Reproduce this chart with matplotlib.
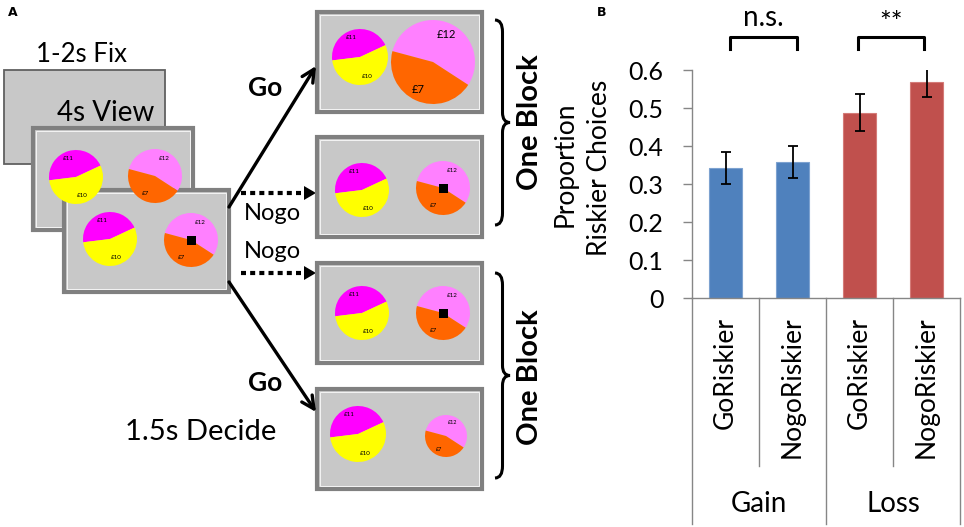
import numpy as np
import matplotlib
matplotlib.use('Agg')
import matplotlib.pyplot as plt
from matplotlib.patches import Rectangle, Wedge, Polygon, PathPatch
from matplotlib.path import Path

plt.rcParams['font.family'] = ['Lato', 'DejaVu Sans']

# ---- panel B data ----
conditions = ['GoRiskier', 'NogoRiskier', 'GoRiskier', 'NogoRiskier']
domains = ['Gain', 'Loss']
riskier = [0.342, 0.357, 0.488, 0.569]
sem = [0.041, 0.042, 0.048, 0.039]
bar_colors = ['#4f81bd', '#4f81bd', '#c0504d', '#c0504d']
bar_edges = ['#7da2d0', '#7da2d0', '#d47b78', '#d47b78']
yticks = [0, 0.1, 0.2, 0.3, 0.4, 0.5, 0.6]
ytick_labels = ['0', '0.1', '0.2', '0.3', '0.4', '0.5', '0.6']
sig_labels = ['n.s.', '**']

# ---- panel A stimuli ----
safe_amounts = ['£11', '£10']
risky_amounts = ['£12', '£7']
safe_share = 0.45   # magenta part of the safe pie
risky_share = 0.55  # pink part of the risky pie

fig = plt.figure(figsize=(9.64, 5.27), dpi=100)

# panel A drawn in pixel coordinates
axa = fig.add_axes([0, 0, 1, 1])
axa.set_xlim(0, 964)
axa.set_ylim(527, 0)
axa.axis('off')

GRAY = '#c8c8c8'


def screen(x, y, w, h, thin=False):
    if thin:
        axa.add_patch(Rectangle((x, y), w, h, fc=GRAY, ec='#606060', lw=1.3, zorder=2))
        return
    axa.add_patch(Rectangle((x, y), w, h, fc=GRAY, ec='#808080', lw=3.0, zorder=2))
    axa.add_patch(Rectangle((x + 3, y + 3), w - 6, h - 6, fc='none', ec='#f4f4f4', lw=0.7, zorder=2))


def pie(cx, cy, r, kind, fs=4.5, square=False):
    if kind == 'safe':
        a1 = 25
        a2 = a1 + safe_share * 360
        c_top, c_bot = '#ff00ff', '#ffff00'
        labels = safe_amounts
        pos = [(-0.3, 0.7), (0.25, -0.7)]
    else:
        a1 = -33
        a2 = a1 + risky_share * 360
        c_top, c_bot = '#ff80ff', '#ff6600'
        labels = risky_amounts
        pos = [(0.33, 0.66), (-0.35, -0.66)]
    # y axis is flipped, so angles are mirrored
    axa.add_patch(Wedge((cx, cy), r, -a2, -a1, fc=c_top, ec='none', zorder=3))
    axa.add_patch(Wedge((cx, cy), r, -a1, 360 - a2, fc=c_bot, ec='none', zorder=3))
    for lab, (dx, dy) in zip(labels, pos):
        axa.text(cx + dx * r, cy - dy * r, lab, fontsize=fs, ha='center', va='center', zorder=4)
    if square:
        s = 9
        axa.add_patch(Rectangle((cx - s / 2, cy - s / 2), s, s, fc='black', ec='none', zorder=4))


def brace(x, y0, y1, w=15):
    ym = (y0 + y1) / 2
    xm = x + w / 2
    verts = [(x, y0), (xm, y0), (xm, y0 + 12),
             (xm, ym - 10),
             (xm, ym), (x + w, ym),
             (xm, ym), (xm, ym + 10),
             (xm, y1 - 12),
             (xm, y1), (x, y1)]
    codes = [Path.MOVETO, Path.CURVE3, Path.CURVE3,
             Path.LINETO,
             Path.CURVE3, Path.CURVE3,
             Path.CURVE3, Path.CURVE3,
             Path.LINETO,
             Path.CURVE3, Path.CURVE3]
    axa.add_patch(PathPatch(Path(verts, codes), fc='none', ec='black', lw=2.2, zorder=3))


# left stack of screens
screen(4, 70, 161, 94, thin=True)
axa.text(81, 54, '1-2s Fix', fontsize=18.5, ha='center', va='center')
axa.text(106, 113, '4s View', fontsize=20, ha='center', va='center', zorder=2.5)
screen(33, 128, 160, 102)
pie(76, 177, 27, 'safe')
pie(155, 176, 27, 'risky')
screen(64, 190, 165, 102)
pie(110, 239, 27, 'safe')
pie(191, 240, 27, 'risky', square=True)
axa.text(201, 432, '1.5s Decide', fontsize=21, ha='center', va='center')

# right column of screens
right_y = [12, 137, 263, 389]
for yy in right_y:
    screen(317, yy, 165, 100)
pie(360, 57, 28, 'safe')
pie(433, 62, 42, 'risky', fs=8)
pie(362, 190, 27, 'safe')
pie(443, 188, 27, 'risky', square=True)
pie(362, 313, 27, 'safe')
pie(443, 313, 27, 'risky', square=True)
pie(358, 434, 28, 'safe')
pie(446, 436, 21, 'risky', fs=4)

# arrows
for (x0, y0, x1, y1) in [(229, 207, 316, 66), (229, 282, 316, 412)]:
    axa.annotate('', xy=(x1, y1), xytext=(x0, y0),
                 arrowprops=dict(arrowstyle='->,head_length=0.9,head_width=0.45',
                                 lw=2.4, color='black', shrinkA=0, shrinkB=0))
for yy in [193, 273]:
    axa.plot([241, 305], [yy, yy], ls=(0, (1.2, 1.0)), lw=3, color='black')
    axa.add_patch(Polygon([(304, yy - 7), (316, yy), (304, yy + 7)], fc='black', ec='none'))

axa.text(265, 88, 'Go', fontsize=19, fontweight='bold', ha='center', va='center')
axa.text(265, 383, 'Go', fontsize=19, fontweight='bold', ha='center', va='center')
axa.text(272, 214, 'Nogo', fontsize=17, ha='center', va='center')
axa.text(272, 252, 'Nogo', fontsize=17, ha='center', va='center')

brace(495, 20, 225)
brace(495, 273, 478)
axa.text(530, 122, 'One Block', fontsize=21, fontweight='bold', rotation=90, ha='center', va='center')
axa.text(530, 377, 'One Block', fontsize=21, fontweight='bold', rotation=90, ha='center', va='center')

axa.text(8, 12, 'A', fontsize=9, fontweight='bold', family='DejaVu Sans', ha='left', va='center')
axa.text(597, 12, 'B', fontsize=9, fontweight='bold', family='DejaVu Sans', ha='left', va='center')

# ---- panel B ----
ax = fig.add_axes([692 / 964, 1 - 298 / 527, 268 / 964, 228 / 527])
x = np.arange(len(riskier))
ax.bar(x, riskier, width=0.5, color=bar_colors, edgecolor=bar_edges, lw=0.8, zorder=2)
ax.errorbar(x, riskier, yerr=sem, fmt='none', ecolor='black', elinewidth=1.3,
            capsize=3.5, capthick=1.3, zorder=3)
ax.set_xlim(-0.5, 3.5)
ax.set_ylim(0, 0.6)
ax.set_yticks(yticks)
ax.set_yticklabels(ytick_labels, fontsize=18)
ax.tick_params(axis='y', length=6.5, width=1, color='#868686', pad=14)
ax.set_xticks(x)
ax.set_xticklabels(conditions, rotation=90, fontsize=19, va='top')
ax.tick_params(axis='x', length=0, pad=13.5)
for s in ['top', 'right']:
    ax.spines[s].set_visible(False)
for s in ['left', 'bottom']:
    ax.spines[s].set_color('#868686')
    ax.spines[s].set_linewidth(1)
ax.patch.set_alpha(0)

tr = ax.get_xaxis_transform()
for xd in [0.5, 2.5]:
    ax.plot([xd, xd], [0, -0.737], transform=tr, color='#868686', lw=1, clip_on=False)
for xd in [-0.5, 1.5, 3.5]:
    ax.plot([xd, xd], [0, -0.99], transform=tr, color='#868686', lw=1, clip_on=False)
for i, d in enumerate(domains):
    ax.text(0.5 + 2 * i, -0.904, d, transform=tr, fontsize=20, ha='center', va='center')

ax.text(-0.474, 0.588, 'Proportion', transform=ax.transAxes, rotation=90, fontsize=19,
        ha='center', va='center')
ax.text(-0.344, 0.570, 'Riskier Choices', transform=ax.transAxes, rotation=90, fontsize=19,
        ha='center', va='center')

# significance brackets
for (xa, xb), lab, ty in zip([(0.067, 1.067), (1.978, 2.963)], sig_labels, [0.737, 0.722]):
    ax.plot([xa, xa, xb, xb], [0.655, 0.687, 0.687, 0.655], color='black', lw=2.2, clip_on=False)
    ax.text((xa + xb) / 2, ty, lab, fontsize=20, ha='center', va='center')

fig.savefig('out.png', dpi=100)
